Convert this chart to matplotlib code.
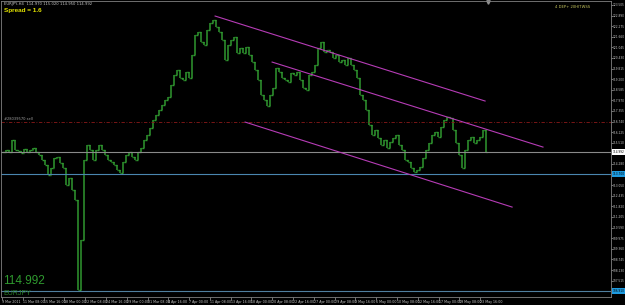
import matplotlib
matplotlib.use("Agg")
import matplotlib.pyplot as plt
import matplotlib.transforms as mtransforms
import numpy as np

# EURJPY H4 closes (left to right)
closes = [
    114.97, 115.09, 114.97, 115.67, 115.09, 115.03, 114.92, 115.15, 114.97, 115.09,
    115.21, 114.97, 114.80, 114.51, 114.22, 113.64, 114.05, 114.63, 114.68, 114.34,
    114.05, 113.06, 113.47, 112.77, 112.19, 106.97, 109.87, 114.51, 115.38, 115.09,
    114.51, 115.09, 115.38, 115.09, 114.80, 114.51, 114.39, 114.22, 113.93, 113.76,
    114.39, 114.80, 114.97, 114.68, 114.51, 114.97, 115.21, 115.67, 115.96, 116.37,
    116.83, 117.12, 117.41, 117.70, 117.99, 118.16, 118.86, 119.44, 119.73, 119.27,
    119.15, 119.61, 119.27, 120.60, 121.76, 121.93, 121.35, 121.18, 122.05, 122.46,
    122.63, 122.22, 121.93, 121.47, 120.31, 121.18, 121.47, 121.64, 120.72, 121.01,
    120.72, 121.06, 120.60, 120.19, 119.73, 119.15, 118.28, 117.99, 117.64, 118.28,
    118.69, 119.85, 119.61, 119.27, 119.15, 119.03, 119.56, 119.44, 119.61, 119.15,
    118.69, 118.57, 119.44, 119.61, 120.02, 121.01, 121.35, 120.77, 120.89, 120.77,
    120.43, 120.60, 120.19, 120.31, 120.02, 120.43, 120.02, 119.73, 119.27, 118.28,
    117.99, 117.41, 116.54, 115.96, 116.25, 115.79, 115.38, 115.67, 115.21, 115.55,
    115.79, 115.96, 115.38, 115.09, 114.51, 114.39, 114.05, 113.81, 113.93, 114.10,
    114.63, 115.09, 115.50, 115.96, 116.13, 115.84, 116.42, 116.83, 117.00, 116.95,
    116.25, 115.50, 114.80, 114.05, 115.09, 115.67, 115.84, 115.50, 115.67, 115.84,
    116.25, 114.99,
]

# magenta channel lines: (bar, price) start and end
channel_lines = [
    [(70.7, 122.86), (160.7, 117.93)],
    [(89.7, 120.19), (180.0, 115.26)],
    [(80.7, 116.71), (169.7, 111.78)],
]

bid_price = 114.992
blue_level = 113.70
low_level = 106.91
order_level = 116.71

# scale labels (the ones hidden under the highlighted prices are left out)
price_ticks = [
    123.505, 122.890, 122.275, 121.660, 121.045, 120.430, 119.815, 119.200,
    118.585, 117.970, 117.355, 116.740, 116.125, 115.510, 114.280,
    113.050, 112.435, 111.820, 111.205, 110.590, 109.975, 109.360,
    108.745, 108.130, 107.515,
]

time_labels = [
    "9 Mar 2011", "11 Mar 08:00", "15 Mar 16:00", "18 Mar 00:00", "22 Mar 08:00",
    "24 Mar 16:00", "29 Mar 00:00", "31 Mar 08:00", "4 Apr 16:00", "7 Apr 00:00",
    "11 Apr 08:00", "13 Apr 16:00", "18 Apr 00:00", "20 Apr 08:00", "22 Apr 16:00",
    "27 Apr 00:00", "29 Apr 08:00", "3 May 16:00", "6 May 00:00", "10 May 08:00",
    "12 May 16:00", "17 May 00:00", "19 May 08:00", "23 May 16:00",
]

green = "#2f982f"
label_gray = "#c8c8c8"

fig = plt.figure(figsize=(6.25, 3.05), dpi=100, facecolor="black")
ax = fig.add_axes([1 / 625, 8 / 305, 610 / 625, 296 / 305], facecolor="black")

# bars: open = previous close
x = np.arange(len(closes))
c = np.array(closes)
o = np.concatenate([[c[0]], c[:-1]])
ax.vlines(x, np.minimum(o, c), np.maximum(o, c), color=green, lw=1.1)
ax.hlines(o, x - 0.5, x, color=green, lw=1.0)
ax.hlines(c, x, x + 0.5, color=green, lw=1.0)

# horizontal levels
ax.axhline(bid_price, color="#8a8a8a", lw=0.8)
ax.axhline(blue_level, color="#4a86b0", lw=0.8)
ax.axhline(low_level, color="#4f7f9f", lw=0.8)
ax.axhline(order_level, color="#8b1a1a", lw=0.6, ls=(0, (4, 2, 1, 2)))

# channel
for (x0, y0), (x1, y1) in channel_lines:
    ax.plot([x0, x1], [y0, y1], color="#b63cb6", lw=0.8)

ax.set_xlim(-0.667, 202.67)
ax.set_ylim(106.564, 123.732)

# price scale on the right
ax.yaxis.tick_right()
ax.set_yticks(price_ticks)
ax.set_yticklabels(["%.3f" % p for p in price_ticks])
ax.tick_params(axis="y", labelsize=2.1, colors=label_gray, length=1.2, pad=0.3, width=0.4)

# time scale
tick_pos = [k * 6.93 - 0.33 for k in range(len(time_labels))]
ax.set_xticks(tick_pos)
ax.set_xticklabels(time_labels)
ax.tick_params(axis="x", labelsize=2.3, colors=label_gray, length=2.0, pad=0.4, width=0.4)
for t in ax.get_xticklabels():
    t.set_horizontalalignment("left")

for s in ax.spines.values():
    s.set_color("#808080")
    s.set_linewidth(0.6)

# highlighted price labels on the scale
trans = mtransforms.blended_transform_factory(ax.transAxes, ax.transData)
for level, face in [(bid_price, "white"), (blue_level, "#1e9be0"), (low_level, "#1e9be0")]:
    ax.text(1.0025, level, "%.3f" % level, transform=trans, fontsize=2.1, color="black",
            va="center", ha="left", clip_on=False, zorder=5,
            bbox=dict(boxstyle="square,pad=0.3", fc=face, ec="none"))

# chart texts
ax.text(0.005, 0.995, "EURJPY,H4  114.970 115.020 114.950 114.992", transform=ax.transAxes,
        fontsize=2.7, color=label_gray, va="top", ha="left")
ax.text(0.005, 0.975, "Spread = 1.6", transform=ax.transAxes, fontsize=4.6,
        color="#e6e600", va="top", ha="left", fontweight="bold", family="Liberation Sans")
ax.text(0.965, 0.985, "4 DEP+ 20HITWSS", transform=ax.transAxes, fontsize=2.7,
        color="#c8c860", va="top", ha="right")
ax.text(0.005, order_level + 0.08, "#28039570 sell", transform=trans, fontsize=2.6,
        color="#a0a0a0", va="bottom", ha="left")
ax.text(0.004, 0.035, "114.992", transform=ax.transAxes, fontsize=8.5,
        color="#2f9a2f", va="bottom", ha="left", family="Liberation Sans")
ax.text(0.004, 0.0, "EURJPY", transform=ax.transAxes, fontsize=5,
        color="#2a7f2a", va="bottom", ha="left", family="Liberation Sans")

# chart shift marker
ax.plot([161.7], [0.995], marker="v", ms=2.5, color="#909090",
        transform=mtransforms.blended_transform_factory(ax.transData, ax.transAxes),
        clip_on=False)

fig.savefig("out.png", dpi=100, facecolor="black")
